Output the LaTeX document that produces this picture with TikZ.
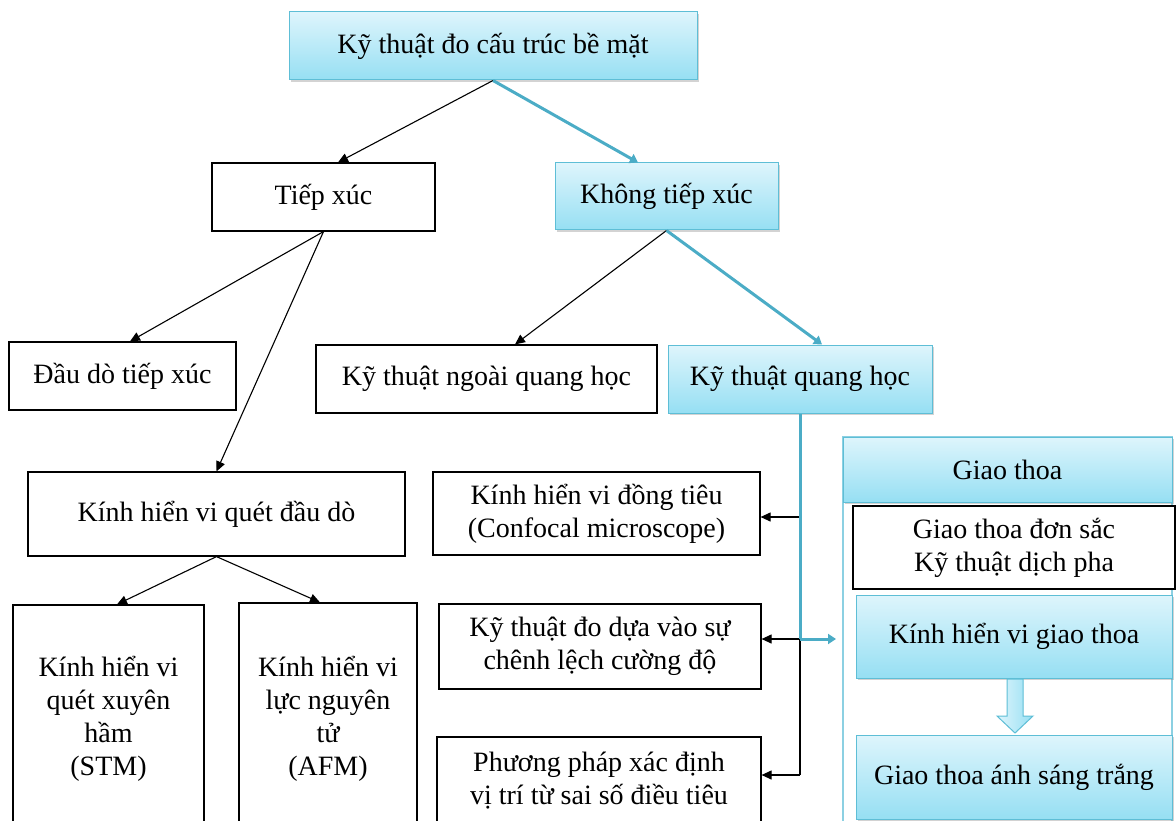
\documentclass[tikz,border=0pt]{standalone}
\usepackage{fontspec}
\setmainfont{Liberation Serif}
\usetikzlibrary{arrows.meta,shadows}
\definecolor{cyanT}{RGB}{222,245,252}
\definecolor{cyanB}{RGB}{150,223,243}
\definecolor{cyanD}{RGB}{94,190,214}
\definecolor{lineB}{RGB}{75,172,198}
\definecolor{panelC}{RGB}{140,208,226}
\tikzset{
  every node/.style={font=\fontsize{28}{33}\selectfont, align=center, inner sep=0pt},
  wbox/.style={draw=black, line width=1.2pt, fill=white, rectangle},
  cbox/.style={draw=cyanD, line width=1pt, top color=cyanT, bottom color=cyanB, rectangle,
     drop shadow={opacity=0.35, shadow xshift=2pt, shadow yshift=-2pt}},
  blk/.style={draw=black, line width=1.1pt, -{Triangle[length=10pt,width=9pt]}},
  blu/.style={draw=lineB, line width=3pt, -{Triangle[length=8pt,width=10pt]}},
  bluline/.style={draw=lineB, line width=3pt},
}
\begin{document}
\begin{tikzpicture}[x=1pt,y=-1pt]
\useasboundingbox (0,0) rectangle (1176,821);
\clip (0,0) rectangle (1176,821);
% right panel frame
\draw[draw=panelC, line width=1.5pt, fill=white] (843,437) rectangle (1172,845);
% nodes
\node[cbox, minimum width=408pt, minimum height=68pt] (top) at (493,46) {Kỹ thuật đo cấu trúc bề mặt};
\node[wbox, minimum width=223pt, minimum height=68pt] (tiep) at (323.5,197) {Tiếp xúc};
\node[cbox, minimum width=223pt, minimum height=67pt] (khong) at (666.5,196.5) {Không tiếp xúc};
\node[wbox, minimum width=227pt, minimum height=68pt] (dau) at (122.5,376) {Đầu dò tiếp xúc};
\node[wbox, minimum width=341pt, minimum height=68pt] (ngoai) at (486.5,379) {Kỹ thuật ngoài quang học};
\node[cbox, minimum width=264pt, minimum height=68pt] (qh) at (800,379) {Kỹ thuật quang học};
\node[wbox, minimum width=377pt, minimum height=84pt] (kquet) at (216.5,514) {Kính hiển vi quét đầu dò};
\node[wbox, minimum width=191pt, minimum height=228pt] (stm) at (108.5,719) {Kính hiển vi\\quét xuyên\\hầm\\(STM)};
\node[wbox, minimum width=178pt, minimum height=232pt] (afm) at (328,719) {Kính hiển vi\\lực nguyên\\tử\\(AFM)};
\node[wbox, minimum width=327pt, minimum height=83pt] (dongtieu) at (596.5,513.5) {Kính hiển vi đồng tiêu\\(Confocal microscope)};
\node[wbox, minimum width=322pt, minimum height=85pt] (dua) at (600,646.5) {Kỹ thuật đo dựa vào sự\\chênh lệch cường độ};
\node[wbox, minimum width=324pt, minimum height=88pt] (ppxd) at (599,781) {Phương pháp xác định\\vị trí từ sai số điều tiêu};
\node[cbox, drop shadow={opacity=0}, minimum width=329pt, minimum height=65pt] (gthead) at (1007.5,469.5) {Giao thoa};
\node[wbox, minimum width=322pt, minimum height=83pt] (donsac) at (1014,547.5) {Giao thoa đơn sắc\\Kỹ thuật dịch pha};
\node[cbox, minimum width=316pt, minimum height=83pt] (kgt) at (1014,636.5) {Kính hiển vi giao thoa};
\node[cbox, minimum width=316pt, minimum height=84pt] (asat) at (1014,777) {Giao thoa ánh sáng trắng};
% block arrow
\draw[draw=cyanD, line width=1pt, left color=cyanT, right color=cyanB]
  (1007,679) -- (1007,716) -- (997,716) -- (1015,733) -- (1033,716) -- (1023,716) -- (1023,679) -- cycle;
% connectors
\draw[blk] (top.south) -- ([xshift=14.5pt]tiep.north);
\draw[blu] (top.south) -- ([xshift=-28.5pt]khong.north);
\draw[blk] (tiep.south) -- ([xshift=7.5pt]dau.north);
\draw[blk] (tiep.south) -- (kquet.north);
\draw[blk] (khong.south) -- ([xshift=28.5pt]ngoai.north);
\draw[blu] (khong.south) -- ([xshift=22pt]qh.north);
\draw[blk] (kquet.south) -- ([xshift=8.5pt]stm.north);
\draw[blk] (kquet.south) -- ([xshift=-8pt]afm.north);
% black bus to left boxes
\coordinate (j1) at (800,517);
\coordinate (j2) at (800,639);
\coordinate (j3) at (800,775);
\draw[draw=black, line width=1.1pt] (j1) -- (j3);
\draw[blk] (j1) -- (j1 -| dongtieu.east);
\draw[blk] (j2) -- (j2 -| dua.east);
\draw[blk] (j3) -- (j3 -| ppxd.east);
% blue path to interference panel
\coordinate (bt) at (836,639);
\draw[bluline] (qh.south) -- (j2);
\draw[blu] (j2) -- (bt);
\end{tikzpicture}
\end{document}
